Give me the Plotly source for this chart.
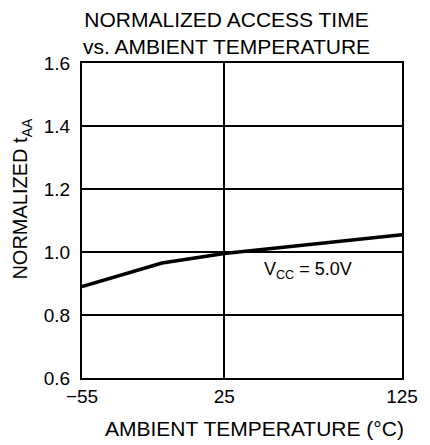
import plotly.graph_objects as go

temps = [-55, -10, 25, 125]
norm_taa = [0.89, 0.965, 0.995, 1.055]

x_ticks = [-55, 25, 125]
x_tick_labels = ["\u221255", "25", "125"]
y_ticks = [0.6, 0.8, 1.0, 1.2, 1.4, 1.6]
y_tick_labels = ["0.6", "0.8", "1.0", "1.2", "1.4", "1.6"]

FONT = "Liberation Sans, Arial, sans-serif"
TXT = dict(family=FONT, size=21, color="black")

fig = go.Figure()
fig.add_trace(go.Scatter(x=temps, y=norm_taa, mode="lines",
                         line=dict(color="black", width=3.5),
                         showlegend=False, hoverinfo="skip"))

axis_common = dict(showline=True, mirror=True, linecolor="black", linewidth=2,
                   showgrid=True, gridcolor="black", gridwidth=2,
                   zeroline=False, ticks="", tickfont=dict(family=FONT, size=19, color="black"))

fig.update_xaxes(range=[-55, 125], tickmode="array", tickvals=x_ticks,
                 ticktext=x_tick_labels, ticklabelstandoff=0, **axis_common)
fig.update_yaxes(range=[0.6, 1.6], tickmode="array", tickvals=y_ticks,
                 ticktext=y_tick_labels, ticklabelstandoff=6, **axis_common)

fig.update_layout(
    width=422, height=437,
    margin=dict(l=74, r=20, t=55, b=67),
    paper_bgcolor="white", plot_bgcolor="white",
    font=TXT,
    annotations=[
        dict(text="NORMALIZED ACCESS TIME<br>vs. AMBIENT TEMPERATURE",
             xref="paper", yref="paper", x=0.451, y=1.0, yshift=4,
             xanchor="center", yanchor="bottom", showarrow=False, font=TXT,
             borderpad=0),
        dict(text="AMBIENT TEMPERATURE (\u00b0C)",
             xref="paper", yref="paper", x=0.54, y=0, yshift=-37,
             xanchor="center", yanchor="top", showarrow=False, font=TXT),
        dict(text="NORMALIZED t<sub>AA</sub>",
             xref="paper", yref="paper", x=0, xshift=-46, y=0.568,
             xanchor="right", yanchor="middle", textangle=-90, showarrow=False,
             font=dict(family=FONT, size=20, color="black")),
        dict(text="V<sub>CC</sub> = 5.0V",
             xref="paper", yref="y", x=0.705, y=0.94,
             xanchor="center", yanchor="middle", showarrow=False,
             font=dict(family=FONT, size=18, color="black")),
    ],
)

fig.write_html("out.html")
